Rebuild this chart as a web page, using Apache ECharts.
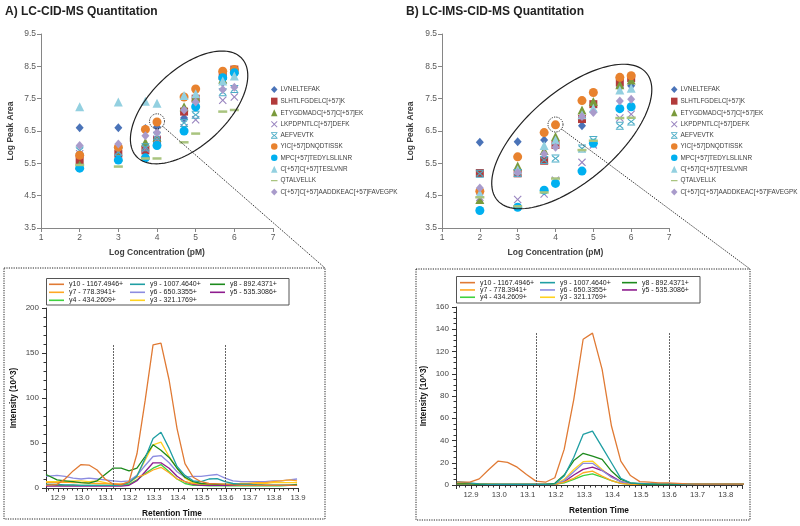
<!DOCTYPE html>
<html><head><meta charset="utf-8">
<script src="https://cdn.jsdelivr.net/npm/echarts@6/dist/echarts.min.js"></script>
<style>html,body{margin:0;padding:0;background:#fff}#c{width:800px;height:526px}</style>
</head><body><div id="c"></div>
<script>
// ---------- DATA ----------
const conc = [2, 3, 3.7, 4, 4.7, 5, 5.7, 6];
const peptides = ['LVNELTEFAK','SLHTLFGDELC[+57]K','ETYGDMADC[+57]C[+57]EK','LKPDPNTLC[+57]DEFK','AEFVEVTK','YIC[+57]DNQDTISSK','MPC[+57]TEDYLSLILNR','C[+57]C[+57]TESLVNR','QTALVELLK','C[+57]C[+57]AADDKEAC[+57]FAVEGPK'];
// Panel A (LC-CID-MS) log peak areas
const lcA_LVNELTEFAK = [6.6, 6.6, 6.58, 6.62, 6.9, 7.5, 8.0, 8.4];
const lcA_SLHTLFGDELC = [5.6, 5.8, 5.9, 6.22, 7.1, 7.5, 8.2, 8.4];
const lcA_ETYGDMADC = [5.45, 5.7, 6.15, 6.3, 7.25, 7.55, 8.1, 8.4];
const lcA_LKPDPNTLC = [5.8, 5.85, 5.95, 6.25, 6.6, 6.85, 7.45, 7.55];
const lcA_AEFVEVTK = [5.9, 5.85, 6.0, 6.35, 6.75, 7.0, 7.7, 7.8];
const lcA_YIC = [5.75, 6.0, 6.55, 6.78, 7.55, 7.8, 8.35, 8.4];
const lcA_MPC = [5.35, 5.6, 5.67, 6.05, 6.5, 7.25, 8.15, 8.3];
const lcA_TESLVNR = [7.25, 7.4, 7.42, 7.36, 7.6, 7.65, 8.05, 8.2];
const lcA_QTALVELLK = [5.45, 5.4, 5.65, 5.65, 6.15, 6.42, 7.1, 7.15];
const lcA_AADD = [6.05, 6.1, 6.35, 6.45, 7.15, 7.4, 7.78, 7.85];
// Panel B (LC-IMS-CID-MS) log peak areas
const imsB_LVNELTEFAK = [6.15, 6.17, 6.22, 6.1, 6.66, 7.1, 7.85, 7.9];
const imsB_SLHTLFGDELC = [5.2, 5.19, 5.58, 6.07, 6.87, 7.33, 8.0, 8.14];
const imsB_ETYGDMADC = [4.38, 5.42, 5.9, 6.33, 7.15, 7.41, 7.93, 8.08];
const imsB_LKPDPNTLC = [4.45, 4.38, 4.55, 4.98, 5.53, 6.07, 6.9, 7.02];
const imsB_AEFVEVTK = [5.18, 5.2, 5.6, 5.65, 5.96, 6.22, 6.66, 6.79];
const imsB_YIC = [4.64, 5.7, 6.45, 6.69, 7.44, 7.69, 8.16, 8.21];
const imsB_MPC = [4.04, 4.14, 4.67, 4.88, 5.26, 6.12, 7.19, 7.25];
const imsB_TESLVNR = [4.57, 5.3, 6.05, 6.22, 7.0, 7.2, 7.77, 7.82];
const imsB_QTALVELLK = [4.45, 4.17, 4.6, 5.03, 5.91, 6.2, 6.9, 6.91];
const imsB_AADD = [4.74, 5.22, 5.79, 6.0, 6.95, 7.07, 7.43, 7.48];

// Chromatograms: retention time (min) and intensity (10^3)
const rt = [12.85, 12.896, 12.929, 12.963, 12.996, 13.029, 13.063, 13.096, 13.129, 13.163, 13.196, 13.229, 13.263, 13.296, 13.329, 13.363, 13.396, 13.429, 13.463, 13.496, 13.529, 13.563, 13.596, 13.629, 13.663, 13.696, 13.729, 13.763, 13.796, 13.829, 13.863, 13.896];
const fragNames = ['y10 - 1167.4946+','y9 - 1007.4640+','y8 - 892.4371+','y7 - 778.3941+','y6 - 650.3355+','y5 - 535.3086+','y4 - 434.2609+','y3 - 321.1769+'];
const chromA_y10 = [3, 4, 10, 19, 26, 25.5, 20, 10, 4.5, 3.5, 7, 38, 97, 159, 161, 120, 66, 27, 12, 7, 5, 4.5, 4, 3.5, 3, 3, 3, 3, 3, 3, 3, 3];
const chromA_y9 = [4, 4, 3.5, 3.5, 3, 3, 3, 3, 3, 3, 6, 13, 33, 55, 62, 44, 24, 14, 8, 7, 10, 10.5, 7, 5, 4, 4, 3.5, 3, 3, 3, 3, 3];
const chromA_y8 = [15, 9, 8, 7, 6, 5.5, 8, 15, 22, 22, 19, 22, 35, 48, 42, 34, 22, 12, 7, 5, 4.5, 4, 4, 4, 4, 4, 3.5, 3, 3, 3, 3, 4];
const chromA_y7 = [6, 6, 6.5, 6, 6, 5.5, 5, 5, 4.5, 4.5, 6, 12, 15, 20, 23, 17, 10, 7, 5, 4.5, 4, 4, 4, 4, 5, 5, 6, 6, 7, 8, 9, 8];
const chromA_y6 = [13, 14, 13, 11, 10, 11, 10, 9, 8, 7, 8, 14, 25, 35, 36, 28, 18, 12, 13, 13, 14, 15, 11, 8, 7, 7, 7, 7, 8, 8, 9, 10];
const chromA_y5 = [2, 2, 2, 2, 2, 2, 2, 2, 2, 2, 3, 8, 18, 28, 28, 22, 13, 7, 4, 3, 3, 3, 3, 3, 3, 3, 3, 3, 3, 3, 3, 3];
const chromA_y4 = [4, 3, 3, 3, 3, 3, 3, 3, 3, 3, 4, 9, 16, 22, 26, 18, 10, 5, 3, 3, 2.5, 2.5, 2.5, 2.5, 2.5, 2.5, 2.5, 2.5, 2.5, 2.5, 3, 3];
const chromA_y3 = [7, 7, 7, 8, 8, 7, 8, 6, 4, 4, 6, 14, 31, 48, 51, 35, 22, 11, 6, 4, 4, 4, 4, 4, 4, 5, 5, 5, 6, 6, 6, 6];
const chromB_y10 = [2.5, 2.5, 5.5, 14, 21.5, 20.3, 16, 9.5, 3.5, 2.5, 6.5, 32, 77, 131, 136.5, 104, 53, 21.5, 8.5, 3, 2.5, 2, 2, 1.5, 1, 0.8, 0.8, 0.8, 0.8, 0.8, 0.8, 0.8];
const chromB_y9 = [3, 2, 1, 0.5, 0.5, 0.5, 0.5, 0.5, 0.5, 0.5, 1, 8, 25, 45.5, 48.5, 34, 20, 6, 2, 1.5, 1, 1, 1, 0.8, 0.5, 0.5, 0.5, 0.5, 0.5, 0.5, 0.5, 0.5];
const chromB_y8 = [1, 1, 0.5, 0.5, 0.5, 0.5, 0.5, 0.5, 0.5, 0.5, 1.5, 9, 22, 28.5, 26, 23, 12.5, 5, 2, 1, 0.5, 0.5, 0.5, 0.5, 0.5, 0.5, 0.5, 0.5, 0.5, 0.5, 0.5, 0.5];
const chromB_y7 = [1, 1, 1, 0.8, 0.5, 0.5, 0.5, 0.5, 0.5, 0.5, 0.5, 2.5, 6, 11, 12.5, 8, 4, 1.5, 0.5, 0.5, 0.5, 0.5, 0.5, 0.5, 0.5, 0.5, 0.5, 0.5, 0.5, 0.5, 0.5, 0.5];
const chromB_y6 = [0.5, 0.5, 0.5, 0.5, 0.5, 0.5, 0.5, 0.5, 0.5, 0.5, 0.5, 4, 12, 19.5, 19.5, 13, 7, 3, 1, 0.5, 0.5, 0.5, 0.5, 0.5, 0.5, 0.5, 0.5, 0.5, 0.5, 0.5, 0.5, 0.5];
const chromB_y5 = [0.5, 0.5, 0.5, 0.5, 0.5, 0.5, 0.5, 0.5, 0.5, 0.5, 0.5, 3, 9, 14, 16, 13, 8, 3, 1, 0.5, 0.5, 0.5, 0.5, 0.5, 0.5, 0.5, 0.5, 0.5, 0.5, 0.5, 0.5, 0.5];
const chromB_y4 = [0.5, 0.5, 0.5, 0.5, 0.5, 0.5, 0.5, 0.5, 0.5, 0.5, 0.5, 2, 5, 8.5, 10, 7, 4, 1.5, 0.5, 0.5, 0.5, 0.5, 0.5, 0.5, 0.5, 0.5, 0.5, 0.5, 0.5, 0.5, 0.5, 0.5];
const chromB_y3 = [1, 1, 1, 0.8, 0.5, 0.5, 0.5, 0.5, 0.5, 0.5, 0.5, 5, 14, 21, 21.5, 14, 7, 3, 1, 0.5, 0.5, 0.5, 0.5, 0.5, 0.5, 0.5, 0.5, 0.5, 0.5, 0.5, 0.5, 0.5];
const windowA = [13.131, 13.595]; const windowTopA = 160;
const windowB = [13.132, 13.6];   const windowTopB = 137;
const zoomPointA = [4, 6.8];  const zoomPointB = [4, 6.7];

// ---------- STYLE ----------
const pepColors = ['#4a73b8','#b23b3b','#7a9a3c','#9a86c0','#4bacc6','#e8822e','#00b0f0','#93d0e0','#a9c47f','#a99bcb'];
const P_X = 'path://M1,0L5,4L9,0L10,1L6,5L10,9L9,10L5,6L1,10L0,9L4,5L0,1Z';
const P_AST = 'path://M0,0h10v1.3h-10zM0,8.7h10v1.3h-10zM1.5,1.3L5,4.2L8.5,1.3L9.6,2.3L6.1,5L9.6,7.7L8.5,8.7L5,5.8L1.5,8.7L0.4,7.7L3.9,5L0.4,2.3Z';
const P_DASH_ICON = 'path://M0,0h0.1v0.1h-0.1zM0,4.2h10v1.8h-10zM9.9,9.9h0.1v0.1h-0.1z';
const pepSymbols = ['diamond','rect','triangle',P_X,P_AST,'circle','circle','triangle','rect','diamond'];
const pepSizes = [[8,9],8,9,8,8,9,9,9,[9,2.5],[8,9]];
const fragColors = ['#e07a34','#1f9ea3','#1d8a1d','#ffa824','#8c8ce0','#8e1c8e','#3fd23f','#ffd21f'];

const dataA = [lcA_LVNELTEFAK, lcA_SLHTLFGDELC, lcA_ETYGDMADC, lcA_LKPDPNTLC, lcA_AEFVEVTK, lcA_YIC, lcA_MPC, lcA_TESLVNR, lcA_QTALVELLK, lcA_AADD];
const dataB = [imsB_LVNELTEFAK, imsB_SLHTLFGDELC, imsB_ETYGDMADC, imsB_LKPDPNTLC, imsB_AEFVEVTK, imsB_YIC, imsB_MPC, imsB_TESLVNR, imsB_QTALVELLK, imsB_AADD];
const chromA = [chromA_y10, chromA_y9, chromA_y8, chromA_y7, chromA_y6, chromA_y5, chromA_y4, chromA_y3];
const chromB = [chromB_y10, chromB_y9, chromB_y8, chromB_y7, chromB_y6, chromB_y5, chromB_y4, chromB_y3];

const FONT = 'Liberation Sans, Arial, sans-serif';

function scatterAxes(gi, nameGapY) {
  return {
    x: {gridIndex: gi, type: 'value', min: 1, max: 7, interval: 1,
      axisLine: {lineStyle: {color: '#868686'}}, axisTick: {show: true, length: 4, lineStyle: {color: '#868686'}},
      splitLine: {show: false}, axisLabel: {fontSize: 8.5, color: '#595959', fontFamily: FONT, margin: 5},
      name: 'Log Concentration (pM)', nameLocation: 'middle', nameGap: 20,
      nameTextStyle: {fontSize: 8.5, fontWeight: 'bold', color: '#404040', fontFamily: FONT}},
    y: {gridIndex: gi, type: 'value', min: 3.5, max: 9.5, interval: 1,
      axisLine: {show: true, lineStyle: {color: '#868686'}}, axisTick: {show: true, length: 4, lineStyle: {color: '#868686'}},
      splitLine: {show: false}, axisLabel: {fontSize: 8.5, color: '#595959', fontFamily: FONT, margin: 5, formatter: v => v.toFixed(1)},
      name: 'Log Peak Area', nameLocation: 'middle', nameGap: nameGapY,
      nameTextStyle: {fontSize: 8.5, fontWeight: 'bold', color: '#404040', fontFamily: FONT}}
  };
}
function chromAxes(gi, xmin, xmax, ymax, yint, yminor, hideMax) {
  return {
    x: {gridIndex: gi, type: 'value', min: xmin, max: xmax, splitNumber: 10,
      axisLine: {onZero: false, lineStyle: {color: '#333'}},
      axisTick: {show: true, length: 4, lineStyle: {color: '#333'}},
      minorTick: {show: true, splitNumber: 5, length: 2.5, lineStyle: {color: '#333'}},
      splitLine: {show: false},
      axisLabel: {fontSize: 7.8, color: '#444', fontFamily: FONT, margin: 6, showMinLabel: false, showMaxLabel: !hideMax,
        formatter: v => v.toFixed(1)},
      name: 'Retention Time', nameLocation: 'middle', nameGap: 22,
      nameTextStyle: {fontSize: 8.3, fontWeight: 'bold', color: '#111', fontFamily: FONT}},
    y: {gridIndex: gi, type: 'value', min: 0, max: ymax, interval: yint,
      axisLine: {show: true, lineStyle: {color: '#333'}},
      axisTick: {show: true, length: 4, lineStyle: {color: '#333'}},
      minorTick: {show: true, splitNumber: yminor, length: 2.5, lineStyle: {color: '#333'}},
      splitLine: {show: false},
      axisLabel: {fontSize: 8, color: '#444', fontFamily: FONT, margin: 7},
      name: 'Intensity (10^3)', nameLocation: 'middle', nameGap: 28,
      nameTextStyle: {fontSize: 8.3, fontWeight: 'bold', color: '#111', fontFamily: FONT}}
  };
}
const sa = scatterAxes(0, 26), sb = scatterAxes(1, 27);
const ca = chromAxes(2, 12.85, 13.9, 200, 50, 5, false);
const cb = chromAxes(3, 12.847, 13.857, 160, 20, 4, true);

const series = [];
[dataA, dataB].forEach((dset, p) => {
  dset.forEach((vals, i) => {
    series.push({
      type: 'scatter', name: peptides[i], xAxisIndex: p, yAxisIndex: p,
      symbol: pepSymbols[i], symbolSize: pepSizes[i],
      itemStyle: {color: pepColors[i], opacity: 1},
      data: conc.map((c, k) => [c, vals[k]]), z: 3, silent: true
    });
  });
});
[[chromA, 2, windowA, windowTopA], [chromB, 3, windowB, windowTopB]].forEach(([dset, ax, win, top]) => {
  for (let i = dset.length - 1; i >= 0; i--) {
    const s = {
      type: 'line', name: fragNames[i], xAxisIndex: ax, yAxisIndex: ax,
      showSymbol: false, symbol: 'none', smooth: false,
      lineStyle: {width: 1.3, color: fragColors[i]}, itemStyle: {color: fragColors[i]},
      data: rt.map((t, k) => [t, dset[i][k]]), silent: true, clip: true
    };
    if (i === 0) {
      s.markLine = {silent: true, symbol: 'none', label: {show: false},
        lineStyle: {color: '#666', type: [2, 1], width: 1},
        data: win.map(w => [{coord: [w, 0]}, {coord: [w, top]}])};
    }
    series.push(s);
  }
});

function pepLegend(left) {
  return {
    orient: 'vertical', left: left, top: 86, padding: 0, itemGap: 4.67,
    itemWidth: 6.5, itemHeight: 7, selectedMode: false,
    textStyle: {fontSize: 6.4, color: '#404040', fontFamily: FONT, padding: [0, 0, 0, -2]},
    data: peptides.map((n, i) => i === 8 ? {name: n, icon: P_DASH_ICON} : {name: n})
  };
}
function fragLegend(left, top, names, lh) {
  return {
    orient: 'vertical', left: left, top: top, padding: 0, itemGap: 0,
    itemWidth: 15, itemHeight: 1.6, selectedMode: false, icon: 'rect',
    textStyle: {fontSize: 7, color: '#222', fontFamily: FONT, lineHeight: lh, height: lh},
    data: names
  };
}
const colA = [[fragNames[0], fragNames[3], fragNames[6]], [fragNames[1], fragNames[4], fragNames[7]], [fragNames[2], fragNames[5]]];

const option = {
  animation: false,
  backgroundColor: '#ffffff',
  grid: [
    {left: 41, top: 34, width: 232, height: 194},
    {left: 442, top: 34, width: 227, height: 194},
    {left: 46, top: 308, width: 252, height: 180},
    {left: 456, top: 307, width: 286, height: 178}
  ],
  xAxis: [sa.x, sb.x, ca.x, cb.x],
  yAxis: [sa.y, sb.y, ca.y, cb.y],
  legend: [
    pepLegend(271), pepLegend(671),
    fragLegend(49, 280.3, colA[0], 8), fragLegend(130, 280.3, colA[1], 8), fragLegend(210, 280.3, colA[2], 8),
    fragLegend(460, 279, colA[0], 7.3), fragLegend(540, 279, colA[1], 7.3), fragLegend(622, 279, colA[2], 7.3)
  ],
  series: series
};

const chart = echarts.init(document.getElementById('c'), null, {renderer: 'canvas'});
chart.setOption(option);

function ellipsePts(c, a, b, deg) {
  const th = deg * Math.PI / 180, pts = [];
  for (let k = 0; k < 120; k++) {
    const f = 2 * Math.PI * k / 120;
    pts.push([c[0] + a * Math.cos(f) * Math.cos(th) - b * Math.sin(f) * Math.sin(th),
              c[1] - (a * Math.cos(f) * Math.sin(th) + b * Math.sin(f) * Math.cos(th))]);
  }
  return pts;
}
const eCA = chart.convertToPixel({xAxisIndex: 0, yAxisIndex: 0}, [4.83, 7.23]);
const eCB = chart.convertToPixel({xAxisIndex: 1, yAxisIndex: 1}, [4.43, 6.33]);
const zA = chart.convertToPixel({xAxisIndex: 0, yAxisIndex: 0}, zoomPointA);
const zB = chart.convertToPixel({xAxisIndex: 1, yAxisIndex: 1}, zoomPointB);
const dotted = {stroke: '#222', lineWidth: 1, lineDash: [1.2, 1.2], fill: null};
const R = 7.5;
function towards(c, t, r) { const dx = t[0]-c[0], dy = t[1]-c[1], d = Math.hypot(dx, dy); return [c[0]+dx/d*r, c[1]+dy/d*r]; }
const boxA = [4, 268, 321, 251], boxB = [416, 269, 334, 251];
const sA = towards(zA, [boxA[0]+boxA[2], boxA[1]], R), sB = towards(zB, [boxB[0]+boxB[2], boxB[1]], R);

chart.setOption({graphic: [
  {type: 'text', left: 5, top: 6, style: {text: 'A) LC-CID-MS Quantitation', font: 'bold 12px ' + FONT, fill: '#222'}},
  {type: 'text', left: 406, top: 6, style: {text: 'B) LC-IMS-CID-MS Quantitation', font: 'bold 12px ' + FONT, fill: '#222'}},
  {type: 'polygon', shape: {points: ellipsePts(eCA, 72, 38, 43)}, style: {fill: null, stroke: '#222', lineWidth: 1.2}, z: 10, silent: true},
  {type: 'polygon', shape: {points: ellipsePts(eCB, 98, 45, 40.5)}, style: {fill: null, stroke: '#222', lineWidth: 1.2}, z: 10, silent: true},
  {type: 'circle', shape: {cx: zA[0], cy: zA[1], r: R}, style: dotted, z: 10, silent: true},
  {type: 'circle', shape: {cx: zB[0], cy: zB[1], r: R}, style: dotted, z: 10, silent: true},
  {type: 'line', shape: {x1: sA[0], y1: sA[1], x2: boxA[0]+boxA[2], y2: boxA[1]}, style: dotted, z: 10, silent: true},
  {type: 'line', shape: {x1: sB[0], y1: sB[1], x2: boxB[0]+boxB[2], y2: boxB[1]}, style: dotted, z: 10, silent: true},
  {type: 'rect', shape: {x: boxA[0], y: boxA[1], width: boxA[2], height: boxA[3]}, style: dotted, z: 10, silent: true},
  {type: 'rect', shape: {x: boxB[0], y: boxB[1], width: boxB[2], height: boxB[3]}, style: dotted, z: 10, silent: true},
  {type: 'rect', shape: {x: 46.5, y: 278.5, width: 242.5, height: 26.5}, style: {fill: null, stroke: '#555', lineWidth: 1}, z: 0, silent: true},
  {type: 'rect', shape: {x: 456.5, y: 276.5, width: 243.5, height: 26.5}, style: {fill: null, stroke: '#555', lineWidth: 1}, z: 0, silent: true}
]});
</script></body></html>
